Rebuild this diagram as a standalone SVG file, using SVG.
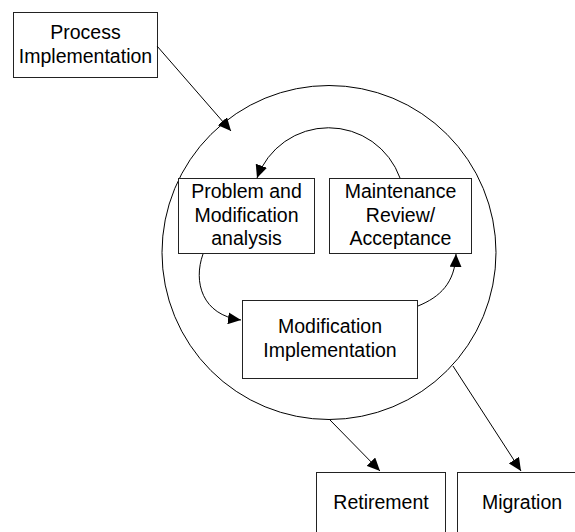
<svg xmlns="http://www.w3.org/2000/svg" width="575" height="532" viewBox="0 0 575 532">
<style>
.box{fill:#fff;stroke:#222;stroke-width:1}
.lbl{font-family:"Liberation Sans",Arial,sans-serif;font-size:19.5px;fill:#000;text-anchor:middle}
.con{fill:none;stroke:#000;stroke-width:1}
</style>
<defs>
<marker id="ah" markerUnits="userSpaceOnUse" markerWidth="14" markerHeight="12" refX="13" refY="6" orient="auto">
<path d="M0,0 L13,6 L0,12 Z" fill="#000"/>
</marker>
</defs>
<rect width="575" height="532" fill="#fff"/>
<g id="cycle">
<circle cx="329" cy="252.5" r="167" fill="none" stroke="#000" stroke-width="1"/>
</g>
<g id="process-implementation">
<rect class="box" x="13.5" y="12.5" width="144" height="65"/>
<text class="lbl" x="85.5" y="39">Process</text>
<text class="lbl" x="85.5" y="63">Implementation</text>
</g>
<g id="problem-analysis">
<rect class="box" x="178.5" y="178.5" width="136" height="75"/>
<text class="lbl" x="246.5" y="198">Problem and</text>
<text class="lbl" x="246.5" y="221.5">Modification</text>
<text class="lbl" x="246.5" y="245">analysis</text>
</g>
<g id="maintenance-review">
<rect class="box" x="329.5" y="178.5" width="142" height="75"/>
<text class="lbl" x="400.5" y="198">Maintenance</text>
<text class="lbl" x="400.5" y="221.5">Review/</text>
<text class="lbl" x="400.5" y="245">Acceptance</text>
</g>
<g id="modification-implementation">
<rect class="box" x="242.5" y="300.5" width="175" height="78"/>
<text class="lbl" x="330" y="333">Modification</text>
<text class="lbl" x="330" y="357">Implementation</text>
</g>
<g id="retirement">
<rect class="box" x="316.5" y="472.5" width="129" height="70"/>
<text class="lbl" x="381" y="509">Retirement</text>
</g>
<g id="migration">
<rect class="box" x="457.5" y="472.5" width="130" height="70"/>
<text class="lbl" x="522" y="509">Migration</text>
</g>
<g id="connectors">
<path class="con" d="M157,46 L231,131" marker-end="url(#ah)"/>
<path class="con" d="M400,178 A76,76 0 0 0 257,178" marker-end="url(#ah)"/>
<path class="con" d="M203,254 C193,282 202,315 241,320" marker-end="url(#ah)"/>
<path class="con" d="M418,306 C440,297 455,283 456,254" marker-end="url(#ah)"/>
<path class="con" d="M453,366 L521,471" marker-end="url(#ah)"/>
<path class="con" d="M330,420 L380,471" marker-end="url(#ah)"/>
</g>
</svg>
